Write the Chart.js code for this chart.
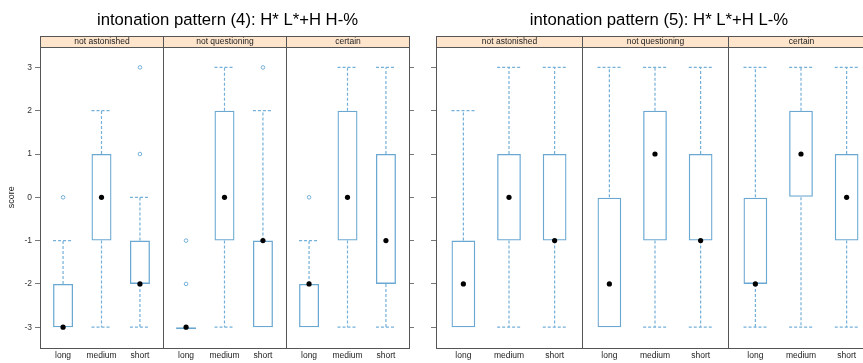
<!DOCTYPE html>
<html>
<head>
<meta charset="utf-8">
<script src="https://cdn.jsdelivr.net/npm/chart.js@4.4.0/dist/chart.umd.min.js"></script>
<style>
  html, body { margin: 0; padding: 0; background: #fff; overflow: hidden; width: 863px; height: 363px; }
  canvas { position: absolute; top: 0; }
</style>
</head>
<body>
<canvas id="chart4" width="455" height="363" style="left:0"></canvas>
<canvas id="chart5" width="478" height="363" style="left:420px"></canvas>
<script>
const strips = ['not astonished', 'not questioning', 'certain'];
const durations = ['long', 'medium', 'short'];
const yTicks = [-3, -2, -1, 0, 1, 2, 3];

// values are listed strip by strip, each strip as long, medium, short
// intonation pattern (4): H* L*+H H-%
const p4Lower   = [-3, -3, -3,  -3, -3, -3,  -3, -3, -3];
const p4BoxLow  = [-3, -1, -2,  -3, -1, -3,  -3, -1, -2];
const p4Median  = [-3,  0, -2,  -3,  0, -1,  -2,  0, -1];
const p4BoxHigh = [-2,  1, -1,  -3,  2, -1,  -2,  2,  1];
const p4Upper   = [-1,  2,  0,  -3,  3,  2,  -1,  3,  3];
const p4Out     = [[0], [], [1, 3],  [-2, -1], [], [3],  [0], [], []];

// intonation pattern (5): H* L*+H L-%
const p5Lower   = [-3, -3, -3,  -3, -3, -3,  -3, -3, -3];
const p5BoxLow  = [-3, -1, -1,  -3, -1, -1,  -2,  0, -1];
const p5Median  = [-2,  0, -1,  -2,  1, -1,  -2,  1,  0];
const p5BoxHigh = [-1,  1,  1,   0,  2,  1,   0,  2,  1];
const p5Upper   = [ 2,  3,  3,   3,  3,  3,   3,  3,  3];
const p5Out     = [[], [], [],  [], [], [],  [], [], []];

// each panel spans 3.2 units on a shared x scale
const panelWidth = 3.2;
const xPos = [];
strips.forEach((s, k) => durations.forEach((d, j) => xPos.push(k * panelWidth + j + 1)));
const xMin = 0.4, xMax = 0.4 + panelWidth * strips.length;
const yMin = -3.48, yMax = 3.48;
const capHalf = 0.26;

const boxColor = '#6aa8d2';
const umbrellaColor = '#74b0d8';
const frameColor = '#555';

function whiskerPoints(lower, boxLow, boxHigh, upper) {
  const pts = [];
  xPos.forEach((x, i) => {
    [[boxLow[i], lower[i]], [boxHigh[i], upper[i]]].forEach(([from, to]) => {
      if (from === to) return;
      pts.push({x: x, y: from}, {x: x, y: to}, {x: x, y: null});
      pts.push({x: x - capHalf, y: to}, {x: x + capHalf, y: to}, {x: x, y: null});
    });
  });
  return pts;
}

const panelPlugin = {
  id: 'panels',
  afterDraw(chart) {
    const ctx = chart.ctx;
    const a = chart.chartArea;
    const x = chart.scales.x;
    const stripTop = Math.round(a.top) - 10.5;
    const bottom = Math.round(a.bottom) + 0.5;
    ctx.save();
    ctx.lineWidth = 1;
    ctx.strokeStyle = frameColor;
    strips.forEach((s, k) => {
      const l = Math.round(x.getPixelForValue(xMin + k * panelWidth)) + 0.5;
      const r = Math.round(x.getPixelForValue(xMin + (k + 1) * panelWidth)) + 0.5;
      ctx.fillStyle = '#ffe5cc';
      ctx.fillRect(l, stripTop, r - l, Math.round(a.top) + 0.5 - stripTop);
      ctx.strokeRect(l, stripTop, r - l, Math.round(a.top) + 0.5 - stripTop);
      ctx.fillStyle = '#222';
      ctx.font = '8.5px "Liberation Sans", Arial, sans-serif';
      ctx.textAlign = 'center';
      ctx.textBaseline = 'middle';
      ctx.fillText(s, (l + r) / 2, stripTop + 5.5);
      if (k > 0) {
        ctx.beginPath();
        ctx.moveTo(l, Math.round(a.top));
        ctx.lineTo(l, bottom);
        ctx.stroke();
      }
    });
    ctx.restore();
  }
};

function makeChart(id, title, lower, boxLow, median, boxHigh, upper, outliers, opt) {
  const boxes = xPos.map((x, i) => ({x: x, y: [boxLow[i], boxHigh[i]]}));
  const medians = xPos.map((x, i) => ({x: x, y: median[i]}));
  const outs = [];
  xPos.forEach((x, i) => outliers[i].forEach(v => outs.push({x: x, y: v})));

  return new Chart(document.getElementById(id), {
    type: 'bar',
    data: {
      datasets: [
        {
          type: 'line', data: medians, showLine: false, order: 0,
          pointRadius: 2.6, pointBackgroundColor: '#000', pointBorderWidth: 0
        },
        {
          type: 'line', data: outs, showLine: false, order: 1,
          pointRadius: 1.8, pointBackgroundColor: 'rgba(0,0,0,0)',
          pointBorderColor: umbrellaColor, pointBorderWidth: 1
        },
        {
          type: 'bar', data: boxes, order: 2,
          backgroundColor: 'rgba(0,0,0,0)', borderColor: boxColor, borderWidth: 1.3,
          borderSkipped: false, minBarLength: 2,
          barPercentage: 0.52, categoryPercentage: 1
        },
        {
          type: 'line', data: whiskerPoints(lower, boxLow, boxHigh, upper), order: 3,
          borderColor: umbrellaColor, borderWidth: 1.2, borderDash: [3, 2],
          pointRadius: 0, spanGaps: false, tension: 0
        }
      ]
    },
    options: {
      responsive: false,
      animation: false,
      layout: { padding: 0 },
      plugins: {
        legend: { display: false },
        tooltip: { enabled: false },
        title: {
          display: true,
          text: title,
          color: '#000',
          font: { size: 16.7, family: '"Liberation Sans", Arial, sans-serif', weight: 'normal' },
          padding: { top: 10.8, bottom: 15.8 }
        }
      },
      scales: {
        x: {
          type: 'linear', min: xMin, max: xMax, offset: false,
          afterBuildTicks: s => { s.ticks = xPos.map(v => ({value: v})); },
          afterFit: s => { s.height = 15; },
          grid: { display: true, drawOnChartArea: false, drawTicks: false, offset: false },
          border: { display: true, color: frameColor, width: 1 },
          ticks: {
            autoSkip: false, maxRotation: 0, padding: 3, color: '#222',
            font: { size: 8.5, family: '"Liberation Sans", Arial, sans-serif' },
            callback: (v, i) => durations[i % durations.length]
          }
        },
        y: {
          type: 'linear', position: 'left', min: yMin, max: yMax,
          afterBuildTicks: s => { s.ticks = yTicks.map(v => ({value: v})); },
          afterFit: s => { s.width = opt.yWidth; },
          grid: { drawOnChartArea: false, drawTicks: true, tickLength: 5, tickColor: '#777' },
          border: { display: true, color: frameColor, width: 1 },
          title: {
            display: opt.yTitle, text: 'score', color: '#222',
            font: { size: 9, family: '"Liberation Sans", Arial, sans-serif' },
            padding: { top: 6, bottom: 0 }
          },
          ticks: {
            padding: 3, color: '#333',
            font: { size: 8.5, family: '"Liberation Sans", Arial, sans-serif' },
            callback: v => opt.yLabels ? String(v) : ''
          }
        },
        y2: {
          type: 'linear', position: 'right', min: yMin, max: yMax,
          afterBuildTicks: s => { s.ticks = yTicks.map(v => ({value: v})); },
          afterFit: s => { s.width = opt.y2Width; },
          grid: { drawOnChartArea: false, drawTicks: true, tickLength: 5, tickColor: '#777' },
          border: { display: true, color: frameColor, width: 1 },
          ticks: { callback: () => '' }
        }
      }
    },
    plugins: [panelPlugin]
  });
}

makeChart('chart4', 'intonation pattern (4): H* L*+H H-%',
  p4Lower, p4BoxLow, p4Median, p4BoxHigh, p4Upper, p4Out,
  { yWidth: 40, y2Width: 46, yLabels: true, yTitle: true });

makeChart('chart5', 'intonation pattern (5): H* L*+H L-%',
  p5Lower, p5BoxLow, p5Median, p5BoxHigh, p5Upper, p5Out,
  { yWidth: 16, y2Width: 24, yLabels: false, yTitle: false });
</script>
</body>
</html>
